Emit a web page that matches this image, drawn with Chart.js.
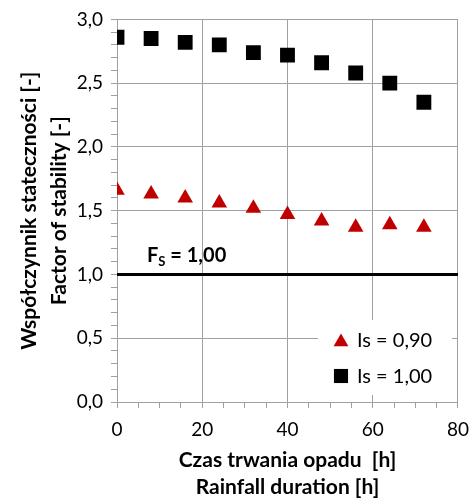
<!DOCTYPE html>
<html>
<head>
<meta charset="utf-8">
<script src="https://cdn.jsdelivr.net/npm/chart.js@4/dist/chart.umd.min.js"></script>
<style>
  body { margin: 0; background: #fff; }
  #wrap { width: 475px; height: 501px; }
</style>
</head>
<body>
<div id="wrap"><canvas id="myChart"></canvas></div>
<script>
// rainfall duration [h]
const hours = [0, 8, 16, 24, 32, 40, 48, 56, 64, 72];
// factor of stability for Is = 0,90 and Is = 1,00
const fsIs090 = [1.66, 1.63, 1.60, 1.56, 1.52, 1.47, 1.42, 1.37, 1.39, 1.37];
const fsIs100 = [2.86, 2.85, 2.82, 2.80, 2.74, 2.72, 2.66, 2.58, 2.50, 2.35];
// limit line Fs = 1,00
const limitX = [0, 80];
const limitY = [1.0, 1.0];
// major tick labels
const xMajor = [0, 20, 40, 60, 80];
const yMajor = ['0,0', '0,5', '1,0', '1,5', '2,0', '2,5', '3,0'];

const FONT = 'Lato, "Open Sans", sans-serif';
const gridGray = '#a0a0a0';

function toPoints(xs, ys) {
  return xs.map((x, i) => ({x: x, y: ys[i]}));
}

function isMajorY(v) {
  return Math.abs(v * 2 - Math.round(v * 2)) < 1e-6;
}

// legend box in the lower right corner of the plot, and the Fs label
function legendBox(area) {
  const w = 134, h = 75;
  return {x: area.right - 6 - w, y: area.bottom - 7 - h, w: w, h: h};
}

const extras = {
  id: 'extras',
  beforeDatasetsDraw(chart) {
    const ctx = chart.ctx;
    const b = legendBox(chart.chartArea);
    ctx.save();
    ctx.fillStyle = '#fff';
    ctx.fillRect(b.x, b.y, b.w, b.h);
    ctx.restore();
  },
  afterDatasetsDraw(chart) {
    const ctx = chart.ctx;
    const area = chart.chartArea;
    const b = legendBox(area);
    const items = [chart.data.datasets[0], chart.data.datasets[1]];
    ctx.save();
    ctx.font = '20px ' + FONT;
    ctx.textBaseline = 'middle';
    items.forEach((ds, i) => {
      const cy = b.y + 20 + i * 36;
      const cx = b.x + 23;
      ctx.fillStyle = ds.backgroundColor;
      ctx.strokeStyle = ds.borderColor;
      Chart.helpers.drawPoint(ctx, {pointStyle: ds.pointStyle, radius: ds.pointRadius * 0.95, borderWidth: 0}, cx, cy + (ds.pointStyle === 'triangle' ? 2 : 0));
      ctx.fillStyle = '#000';
      ctx.fillText(ds.label, cx + 16, cy + 1);
    });

    // Fs = 1,00 label
    const y1 = chart.scales.y.getPixelForValue(1.0);
    let x = area.left + 30;
    const base = y1 - 12;
    ctx.textBaseline = 'alphabetic';
    ctx.font = 'bold 20px ' + FONT;
    ctx.fillText('F', x, base);
    x += ctx.measureText('F').width;
    ctx.font = 'bold 13px ' + FONT;
    ctx.fillText('S', x, base + 4);
    x += ctx.measureText('S').width;
    ctx.font = 'bold 20px ' + FONT;
    ctx.fillText(' = 1,00', x, base);
    ctx.restore();
  }
};

const ctx = document.getElementById('myChart').getContext('2d');
const myChart = new Chart(ctx, {
  type: 'scatter',
  data: {
    datasets: [{
      label: 'Is = 0,90',
      data: toPoints(hours, fsIs090),
      pointStyle: 'triangle',
      pointRadius: 9,
      pointHoverRadius: 9,
      backgroundColor: '#c00000',
      borderColor: '#c00000',
      borderWidth: 0
    }, {
      label: 'Is = 1,00',
      data: toPoints(hours, fsIs100),
      pointStyle: 'rect',
      pointRadius: 10.5,
      pointHoverRadius: 10.5,
      backgroundColor: '#000',
      borderColor: '#000',
      borderWidth: 0
    }, {
      label: 'Fs',
      data: toPoints(limitX, limitY),
      showLine: true,
      borderColor: '#000',
      borderWidth: 3,
      pointRadius: 0,
      pointHoverRadius: 0
    }]
  },
  options: {
    responsive: true,
    maintainAspectRatio: false,
    animation: false,
    events: [],
    layout: {padding: {left: 8, right: 17, top: 12, bottom: 0}},
    plugins: {
      legend: {display: false},
      tooltip: {enabled: false}
    },
    scales: {
      x: {
        type: 'linear',
        min: 0,
        max: 80,
        afterFit: scale => { scale.height = 99; },
        ticks: {
          stepSize: 5,
          autoSkip: false,
          maxRotation: 0,
          padding: 6,
          color: '#000',
          font: {family: FONT, size: 19, lineHeight: 1.7},
          callback: v => xMajor.includes(v) ? String(v) : ''
        },
        grid: {
          color: c => (c.tick && xMajor.includes(c.tick.value)) ? gridGray : 'rgba(0,0,0,0)',
          tickColor: gridGray,
          tickLength: 6
        },
        border: {color: gridGray},
        title: {
          display: true,
          text: ['Czas trwania opadu  [h]', 'Rainfall duration [h]'],
          color: '#000',
          font: {family: FONT, size: 21, weight: 'bold', lineHeight: 1.3},
          padding: {top: 0, bottom: 0}
        }
      },
      y: {
        min: 0,
        max: 3,
        afterFit: scale => { scale.width = 109; },
        ticks: {
          stepSize: 0.1,
          autoSkip: false,
          padding: 8,
          color: '#000',
          font: {family: FONT, size: 19},
          callback: v => isMajorY(v) ? yMajor[Math.round(v * 2)] : ''
        },
        grid: {
          color: c => (c.tick && isMajorY(c.tick.value)) ? gridGray : 'rgba(0,0,0,0)',
          tickColor: gridGray,
          tickLength: 6
        },
        border: {color: gridGray},
        title: {
          display: true,
          text: ['Współczynnik stateczności [-]', 'Factor of stability [-]'],
          color: '#000',
          font: {family: FONT, size: 21, weight: 'bold', lineHeight: 1.45},
          padding: {top: 6, bottom: 0}
        }
      }
    }
  },
  plugins: [extras]
});
</script>
</body>
</html>
